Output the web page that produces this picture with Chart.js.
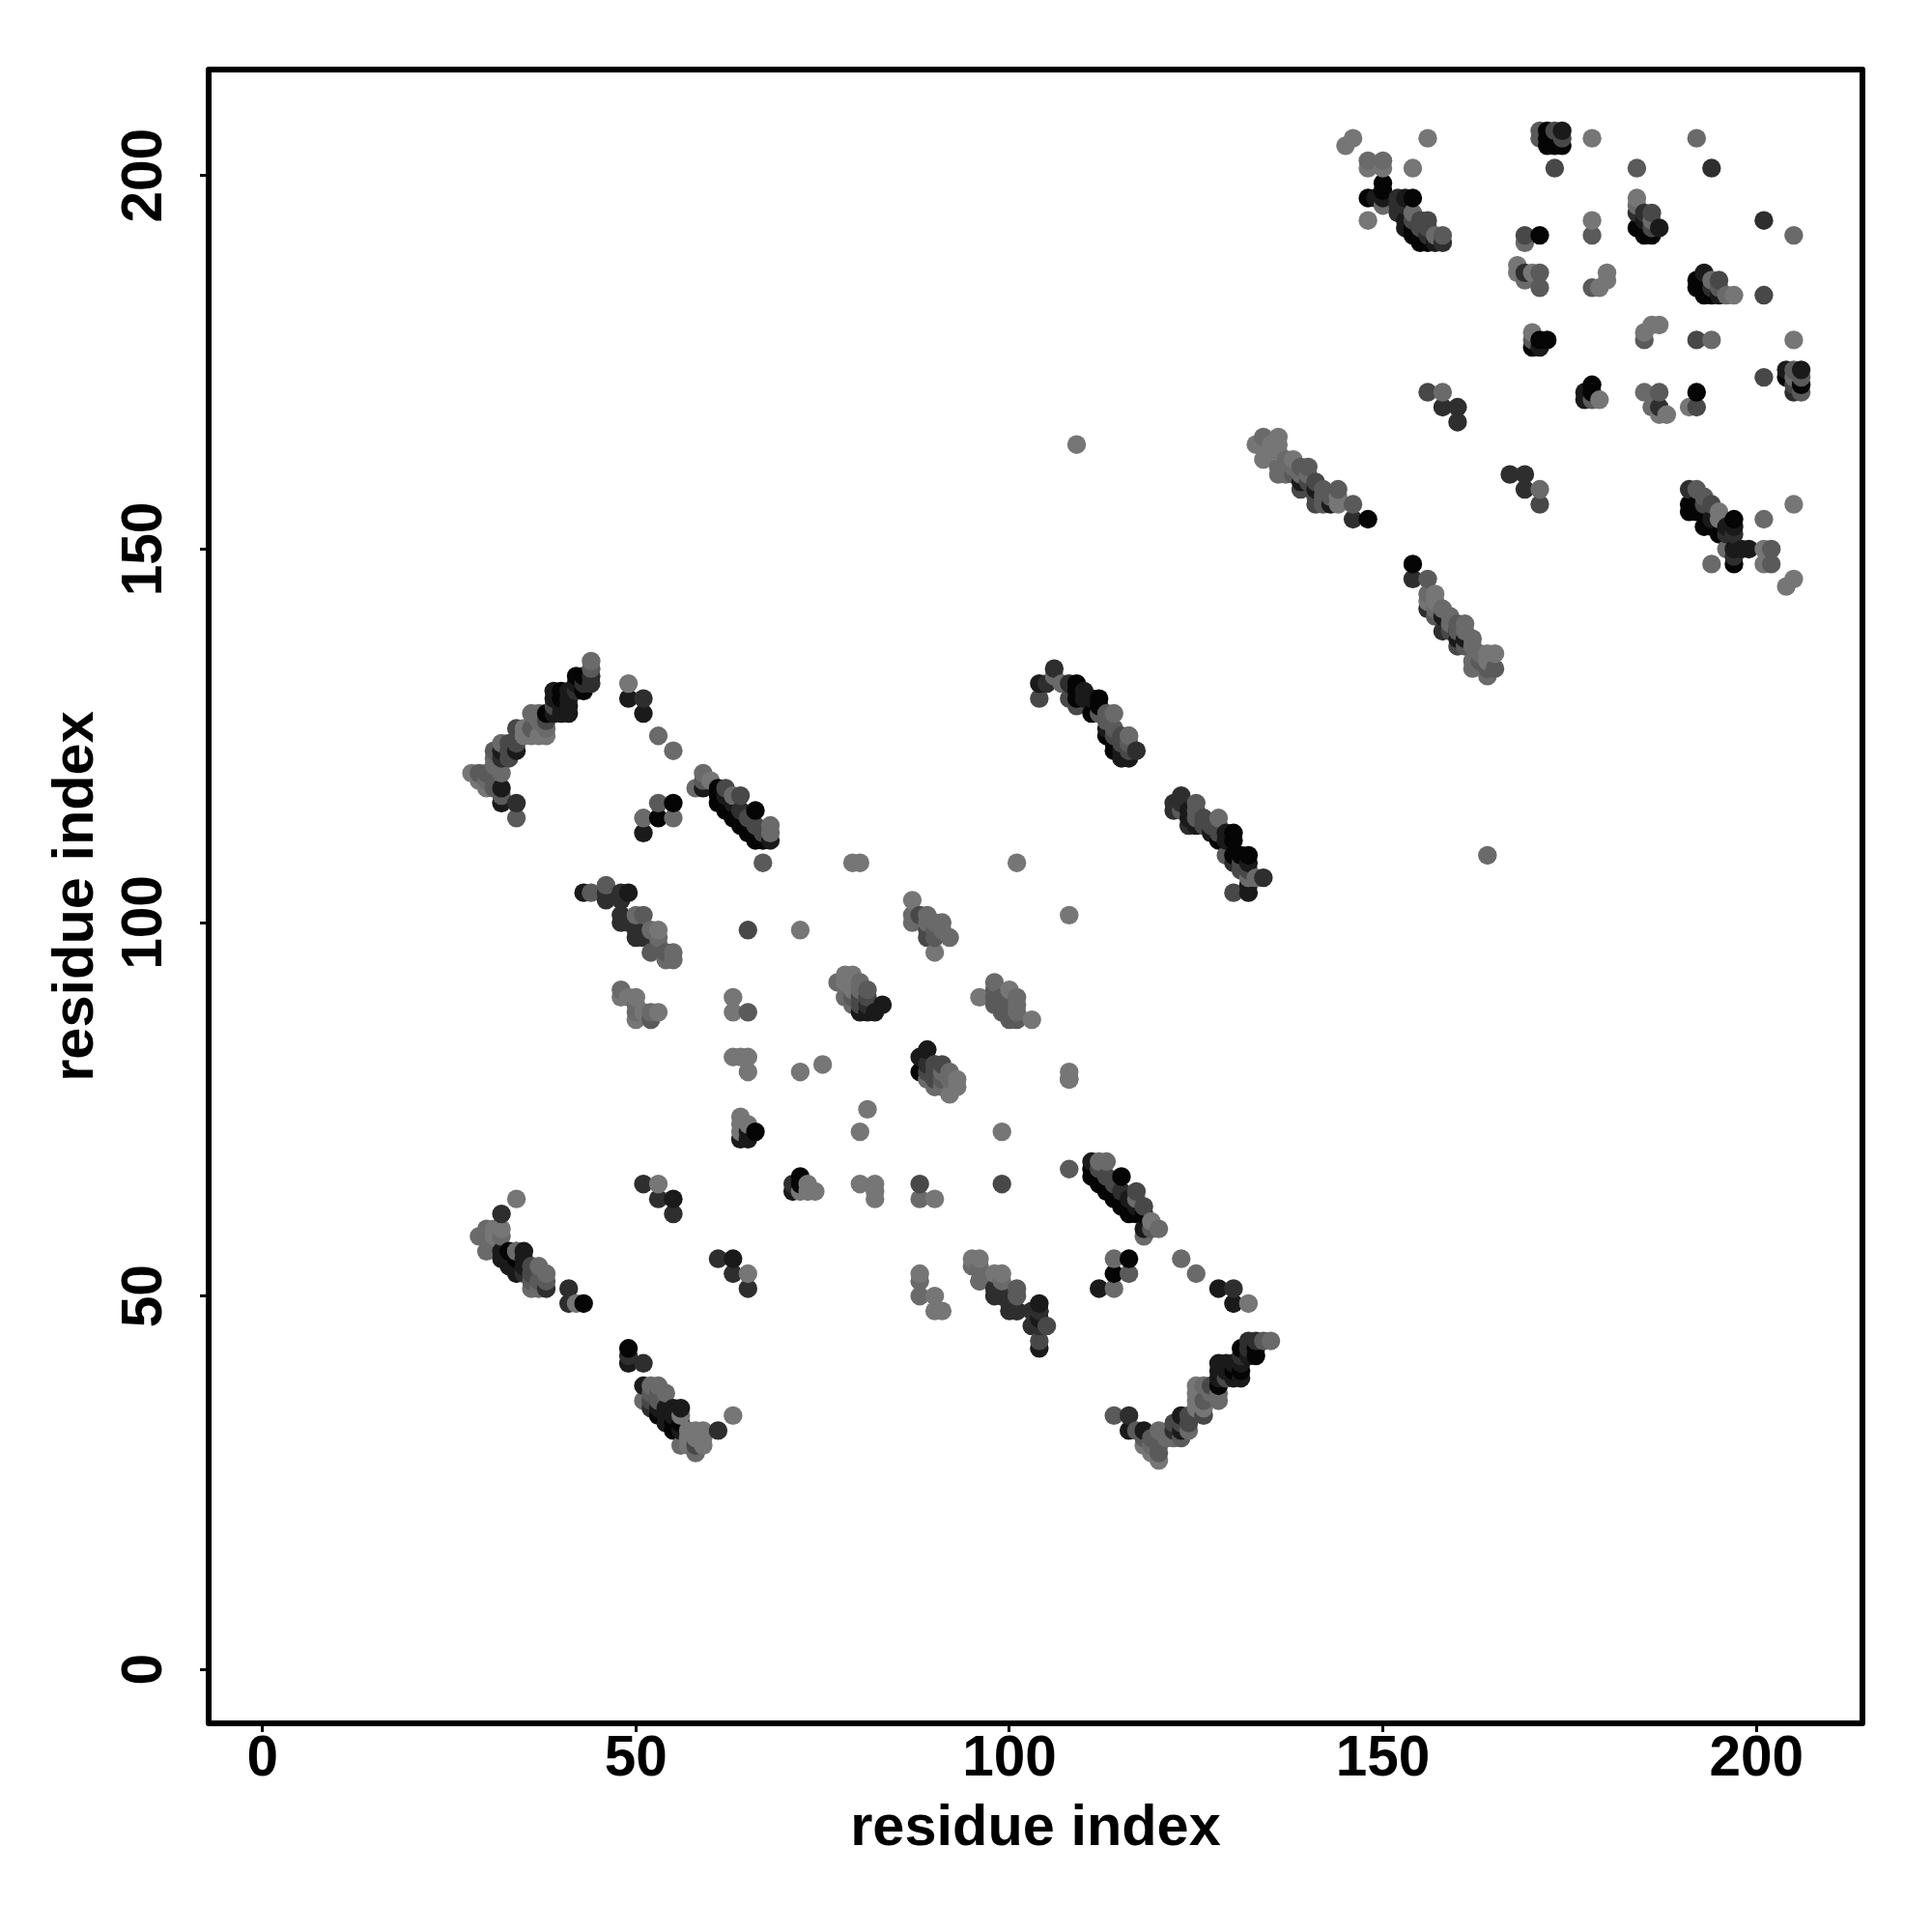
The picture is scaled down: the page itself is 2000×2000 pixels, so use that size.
<!DOCTYPE html>
<html>
<head>
<meta charset="utf-8">
<script src="https://cdn.jsdelivr.net/npm/chart.js@4"></script>
<style>
  html, body { margin: 0; padding: 0; background: #fff; }
  canvas { display: block; }
</style>
</head>
<body>
<canvas id="contactMap" width="2000" height="2000"></canvas>
<script>
// contacts, [residue x, residue y], one list per grey level
const tickValues = [0, 50, 100, 150, 200];
const axisLabel = "residue index";

const shadeColors = ["#050505", "#1a1a1a", "#2e2e2e", "#484848", "#5a5a5a", "#6a6a6a", "#767676"];

const shade0 = [
  [42,133],[43,133],[43,131],[40,131],[40,130],[38,128],[133,42],[133,43],[131,43],[131,40],[130,40],[128,38],
  [55,116],[53,114],[116,55],[114,53],[61,118],[61,116],[61,117],[63,114],[65,112],[66,115],[66,111],[67,111],
  [118,61],[116,61],[117,61],[114,63],[112,65],[115,66],[111,66],[111,67],[66,72],[72,66],[72,65],[88,80],[49,43],[43,49],
  [53,34],[55,33],[55,32],[56,33],[33,56],[34,55],[109,132],[109,131],[109,130],[112,130],[112,129],[111,128],[114,124],
  [130,112],[130,111],[128,111],[130,109],[132,109],[131,109],[148,154],[154,148],[150,199],[150,198],[148,197],[154,197],
  [172,205],[172,206],[173,204],[174,204],[184,193],[185,192],[186,192],[171,192],[192,186],[192,185],[194,184],
  [171,178],[172,178],[170,177],[204,173],[206,172],[178,172],[178,171],[192,171],[155,191],[156,191],
  [191,156],[191,155],[193,153],[194,153],[197,154],[197,148],
  [62,116],[62,115],[63,115],[64,114],[64,113],[65,113],[116,62],[115,62],[115,63],[114,64],[113,64],[113,65],
  [154,193],[155,192],[154,192],[185,193],[193,185],[193,184],[172,204],[192,156],[192,155],[193,155],[195,152],[113,125],[114,123]
];
const shade1 = [
  [41,131],[41,129],[41,128],[40,128],[34,123],[32,123],[32,118],[32,116],[131,41],[129,41],[128,41],[128,40],[123,34],[123,32],[118,32],[116,32],
  [49,130],[51,128],[51,112],[130,49],[128,51],[112,51],[59,118],[68,111],[118,59],[111,68],[43,104],[49,104],[104,43],[104,49],[104,48],[104,47],
  [83,89],[80,88],[81,88],[82,88],[89,83],[88,82],[55,63],[64,71],[65,71],[65,72],[71,64],[63,55],
  [32,56],[32,55],[33,55],[35,56],[35,55],[34,53],[35,54],[51,38],[54,35],[55,35],[56,35],[56,32],[54,33],[53,35],[49,41],
  [104,132],[111,130],[113,126],[115,123],[115,122],[116,122],[125,113],[124,114],[132,108],[132,105],[132,104],
  [141,158],[139,159],[143,156],[158,141],[160,138],[150,197],[149,197],[153,197],[153,193],[204,174],[206,174],[157,191],[187,193],[193,187],[195,184],
  [171,177],[177,170],[177,171],[197,150],[198,150],[199,150],[196,153],[174,206],
  [39,130],[39,131],[40,129],[42,132],[41,130],[39,128],[130,39],[131,39],[129,40],[132,42],[130,41],[128,39],
  [62,117],[63,116],[117,62],[116,63],[127,112],[129,111],[129,112],[124,115],[153,194],[185,194],[194,154],[197,153],[160,139],[161,138],[110,131],[110,130],[54,34],[55,34],[33,54],[34,54]
];
const shade2 = [
  [44,133],[44,132],[42,131],[32,122],[34,116],[133,44],[132,44],[131,42],[122,32],[116,34],[51,130],[130,51],[64,115],[115,64],
  [46,104],[46,103],[48,104],[48,101],[48,100],[50,99],[50,98],[51,98],[49,100],[98,50],[100,48],[101,48],[99,50],[100,49],[103,48],[103,46],
  [71,65],[51,65],[53,63],[55,61],[32,61],[35,53],[38,51],[41,51],[41,49],[51,41],[52,35],[61,32],[49,42],
  [106,134],[105,132],[108,132],[117,123],[123,117],[122,116],[122,115],[123,116],[124,113],[130,108],[134,106],
  [146,154],[154,146],[158,139],[152,197],[158,191],[194,201],[185,195],[167,160],[169,160],[169,158],[158,169],[160,169],[160,167],
  [201,194],[169,187],[205,171],[187,169],[191,158],[196,152],[197,152],[197,149],[156,142],
  [61,55],[63,53],[65,51],[43,132],[132,43],[104,46],[104,48],[101,48],[48,103],[98,51],[81,89],[89,81],[184,195],[194,185],[152,195],[152,196],[153,196],[156,192]
];
const shade3 = [
  [39,129],[34,126],[34,124],[33,123],[129,39],[126,34],[124,34],[123,33],[62,118],[64,117],[66,113],[65,114],[67,112],
  [118,62],[117,64],[113,66],[114,65],[112,67],[65,99],[99,65],[88,65],[80,89],[91,81],[90,81],[90,79],[89,80],[89,99],[89,98],[88,101],
  [58,30],[105,46],[104,44],[104,130],[108,130],[109,129],[115,125],[126,114],[126,113],[128,112],[130,104],
  [139,158],[141,157],[141,156],[160,137],[171,156],[155,194],[156,194],[155,193],[156,193],[173,206],[173,201],[186,195],[195,186],
  [169,192],[201,184],[201,173],[192,178],[192,169],[193,156],[194,156],[156,171],[174,205],
  [38,127],[127,38],[33,122],[122,33],[33,124],[124,33],[127,113],[128,113],[114,125],[115,124],[116,123],[131,107],[132,107],[140,159],[141,159],[159,139],
  [154,194],[186,193],[205,172],[80,90],[81,90],[90,80],[90,81],[36,54],[36,53],[52,36],[131,108]
];
const shade4 = [
  [44,134],[36,126],[31,123],[30,120],[29,120],[31,120],[31,118],[32,117],[34,114],[134,44],[126,36],[123,31],[120,30],[120,29],[120,31],[118,31],[117,32],[114,34],
  [53,116],[116,53],[59,119],[119,59],[67,108],[108,67],[44,104],[46,105],[51,101],[52,96],[54,96],[53,97],
  [98,91],[98,90],[98,89],[99,89],[99,88],[100,87],[101,87],[101,51],[101,50],[52,87],[65,88],[81,91],[79,90],[38,52],[36,52],[91,79],[90,99],[90,98],
  [113,128],[114,126],[116,125],[116,124],[129,109],[125,116],[142,158],[142,157],[143,157],[142,156],[146,156],[139,161],[140,161],[138,160],
  [156,146],[160,140],[161,137],[165,134],[164,134],[171,206],[171,205],[184,201],[178,192],[171,187],[171,185],[178,185],[195,185],[178,170],[187,171],
  [170,178],[185,178],[205,174],[206,173],[206,171],[192,158],[202,150],[202,148],[158,192],[157,141],[34,56],
  [31,119],[119,31],[96,52],[99,90],[100,90],[100,89],[100,88],[160,139],[193,157],[37,52],[53,36],[53,37],[52,37],[113,127],[112,128],[125,115],[125,114],[123,115],[163,135],[144,158]
];
const shade5 = [
  [44,135],[36,128],[37,128],[38,126],[32,124],[31,122],[31,121],[32,120],[135,44],[128,36],[128,37],[126,38],[124,32],[122,31],[121,31],[120,32],
  [53,125],[125,53],[55,123],[123,55],[51,114],[55,114],[114,51],[114,55],[59,120],[58,118],[63,117],[68,113],[68,112],[120,59],[118,58],[117,63],[113,68],[112,68],
  [50,101],[52,99],[53,98],[54,95],[55,96],[55,95],[96,52],[95,54],[96,54],[48,91],[50,89],[50,88],[52,88],[77,92],[80,92],[78,90],[88,52],[88,50],[88,63],
  [87,101],[87,100],[89,101],[91,100],[91,99],[92,98],[98,92],[101,89],[101,88],[92,80],[92,79],[90,78],[91,78],[108,79],
  [29,58],[30,59],[30,58],[32,58],[30,56],[34,56],[37,54],[38,53],[36,51],[37,51],[56,30],[58,29],[52,38],[53,38],[54,37],[51,36],
  [106,133],[107,132],[114,128],[116,125],[128,114],[132,106],[133,106],[134,165],[136,161],[137,162],[137,160],[136,160],[140,160],
  [156,144],[158,142],[161,140],[162,138],[162,137],[162,135],[162,134],[164,133],[164,109],[158,171],[171,158],
  [148,202],[150,202],[150,196],[154,195],[157,192],[184,196],[186,194],[192,205],[205,192],[169,191],[169,186],[194,186],[196,184],[194,178],[205,173],[186,169],[185,171],[196,150],[194,148],[201,154],
  [37,127],[127,37],[30,119],[119,30],[80,91],[91,80],[79,89],[89,79],[101,90],[89,100],[90,100],[99,52],[137,161],[138,161],[139,160],[157,142],[161,139],[159,141],[163,136],[159,140]
];
const shade6 = [
  [38,125],[37,125],[35,126],[35,125],[28,120],[29,119],[30,118],[125,38],[125,37],[126,35],[125,35],[120,28],[119,29],[118,30],
  [49,132],[132,49],[60,119],[119,60],[79,108],[80,108],[108,79],[108,80],[72,99],[99,72],[53,99],
  [48,90],[49,90],[50,90],[50,87],[51,88],[53,88],[63,90],[63,88],[78,93],[79,93],[78,92],[79,91],[63,82],[64,82],[65,82],[65,80],[72,80],[75,81],[81,75],[80,72],
  [64,74],[64,73],[65,73],[64,72],[73,65],[74,64],[73,64],[72,64],[80,65],[82,65],[82,64],[82,63],[90,63],[95,55],[96,55],[98,53],[99,53],[90,50],[90,48],[91,48],[88,53],
  [87,103],[90,96],[96,90],[100,91],[103,87],[93,79],[93,78],[92,77],[34,63],[31,59],[32,59],[31,58],[56,34],[42,49],[58,32],[59,32],[58,31],[59,30],[57,31],[63,34],
  [101,108],[108,101],[109,164],[133,164],[136,165],[135,164],[136,164],[134,162],[136,163],[138,162],[144,157],[144,156],
  [157,144],[156,143],[157,143],[164,136],[165,136],[164,135],[146,205],[145,204],[156,205],[178,205],[148,201],[150,201],[154,201],[148,194],[184,197],[178,194],
  [168,188],[168,187],[170,187],[180,187],[180,186],[179,185],[197,184],[170,179],[187,180],[186,180],[185,179],[205,178],[179,170],[187,168],[188,168],[191,169],
  [195,154],[201,150],[201,148],[205,156],[205,146],[204,145],
  [53,65],[65,53],[36,125],[125,36],[79,92],[57,32],[57,30],[59,31],[195,155]
];

const shadeLists = [shade0, shade1, shade2, shade3, shade4, shade5, shade6];

// the plot drew column by column, so later residues sit on top
const contacts = [];
shadeLists.forEach((list, level) => {
  list.forEach(p => contacts.push({ x: p[0], y: p[1], color: shadeColors[level] }));
});
contacts.sort((a, b) => a.x - b.x || a.y - b.y);

const tickFont = { family: "Liberation Sans", size: 58.5, weight: "bold" };
const titleFont = { family: "Liberation Sans", size: 59.5, weight: "bold" };

const frame = {
  id: "frame",
  afterDatasetsDraw(chart) {
    const a = chart.chartArea, ctx = chart.ctx;
    ctx.save();
    ctx.strokeStyle = "#000";
    ctx.lineWidth = 6;
    ctx.lineJoin = "round";
    ctx.strokeRect(a.left, a.top, a.right - a.left, a.bottom - a.top);
    ctx.restore();
  }
};

new Chart(document.getElementById("contactMap"), {
  type: "scatter",
  data: {
    datasets: [{
      data: contacts,
      pointRadius: 9.7,
      pointHoverRadius: 9.7,
      pointBorderWidth: 0,
      pointBackgroundColor: contacts.map(c => c.color)
    }]
  },
  plugins: [frame],
  options: {
    responsive: false,
    animation: false,
    devicePixelRatio: 1,
    layout: { padding: { top: 72, right: 72, left: 0, bottom: 0 } },
    plugins: { legend: { display: false }, tooltip: { enabled: false } },
    scales: {
      x: {
        type: "linear",
        min: -7.2,
        max: 214.2,
        afterFit: s => { s.height = 216; },
        afterBuildTicks: s => { s.ticks = tickValues.map(v => ({ value: v })); },
        grid: { drawOnChartArea: false, tickLength: 9, tickWidth: 3, tickColor: "#000" },
        border: { display: false },
        ticks: { color: "#000", font: tickFont, padding: -6, maxRotation: 0, autoSkip: false },
        title: { display: true, text: axisLabel, color: "#000", font: titleFont, padding: { top: 0, bottom: 70.5 } }
      },
      y: {
        type: "linear",
        min: -7.2,
        max: 214.2,
        afterFit: s => { s.width = 216; },
        afterBuildTicks: s => { s.ticks = tickValues.map(v => ({ value: v })); },
        grid: { drawOnChartArea: false, tickLength: 9, tickWidth: 3, tickColor: "#000" },
        border: { display: false },
        ticks: { color: "#000", font: tickFont, padding: 7.5, minRotation: 90, maxRotation: 90, crossAlign: "center", autoSkip: false },
        title: { display: true, text: axisLabel, color: "#000", font: titleFont, padding: { top: 44, bottom: 0 } }
      }
    }
  }
});
</script>
</body>
</html>
